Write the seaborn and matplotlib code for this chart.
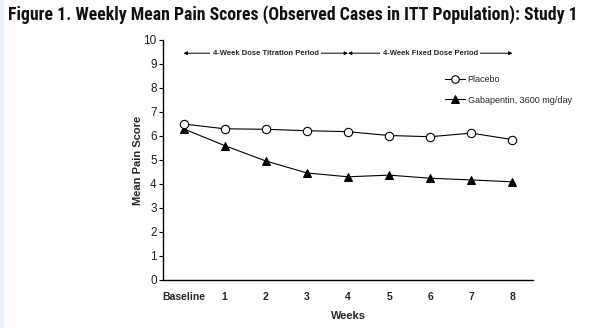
import matplotlib
matplotlib.use("Agg")
import matplotlib.pyplot as plt
import matplotlib.patches as mpatches
import seaborn as sns
import pandas as pd

weeks = [0, 1, 2, 3, 4, 5, 6, 7, 8]
week_labels = ["Baseline", "1", "2", "3", "4", "5", "6", "7", "8"]
placebo = [6.5, 6.3, 6.28, 6.22, 6.18, 6.02, 5.97, 6.12, 5.85]
gabapentin = [6.3, 5.6, 4.96, 4.46, 4.3, 4.37, 4.24, 4.17, 4.09]
series_names = ["Placebo", "Gabapentin, 3600 mg/day"]
periods = ["4-Week Dose Titration Period", "4-Week Fixed Dose Period"]
period_bounds = [(0, 4), (4, 8)]
title = "Figure 1. Weekly Mean Pain Scores (Observed Cases in ITT Population): Study 1"

sns.set_theme(style="white")
plt.rcParams["font.family"] = ["Liberation Sans", "DejaVu Sans"]

fig = plt.figure(figsize=(5.9, 3.28), dpi=100)
fig.patch.set_facecolor("white")
# thin tinted page edge
fig.add_artist(mpatches.Rectangle((0, 0), 4 / 590, 1, transform=fig.transFigure,
                                  facecolor="#eaf1f9", edgecolor="none"))

ax = fig.add_axes([163 / 590, 48 / 328, 370 / 590, 240 / 328])

df_p = pd.DataFrame({"week": weeks, "score": placebo})
df_g = pd.DataFrame({"week": weeks, "score": gabapentin})

sns.lineplot(data=df_g, x="week", y="score", ax=ax, color="black", lw=0.8,
             marker="^", markersize=6, markerfacecolor="black",
             markeredgecolor="black", label=series_names[1], zorder=3)
sns.lineplot(data=df_p, x="week", y="score", ax=ax, color="black", lw=0.8,
             marker="o", markersize=6, markerfacecolor="white",
             markeredgecolor="black", markeredgewidth=0.8,
             label=series_names[0], zorder=4)

ax.set_xlim(-0.5, 8.5)
ax.set_ylim(0, 10)
ax.set_yticks(range(0, 11))
ax.set_xticks(weeks)
ax.set_xticklabels(week_labels, fontsize=7.5, fontweight="bold")
ax.tick_params(axis="y", left=True, length=3, width=0.8, color="black",
               labelsize=8.5, pad=1.5, labelcolor="#222222")
ax.tick_params(axis="x", bottom=False, pad=3)
for s in ["top", "right"]:
    ax.spines[s].set_visible(False)
for s in ["left", "bottom"]:
    ax.spines[s].set_color("black")
    ax.spines[s].set_linewidth(1.0)

ax.set_xlabel("Weeks", fontsize=8, fontweight="bold", labelpad=6)
ax.set_ylabel("Mean Pain Score", fontsize=8, fontweight="bold", labelpad=0)

# treatment period arrows
for (a, b), txt in zip(period_bounds, periods):
    ax.annotate("", xy=(a, 9.45), xytext=(b, 9.45),
                arrowprops=dict(arrowstyle="<|-|>", color="black", lw=0.7,
                                mutation_scale=5, shrinkA=0, shrinkB=0))
    ax.text((a + b) / 2, 9.45, txt, ha="center", va="center", fontsize=5.5,
            fontweight="bold",
            bbox=dict(boxstyle="square,pad=0.3", facecolor="white", edgecolor="none"))

handles, labels = ax.get_legend_handles_labels()
order = [labels.index(n) for n in series_names]
ax.legend([handles[i] for i in order], [labels[i] for i in order],
          loc="upper left", bbox_to_anchor=(0.762, 0.855), frameon=False,
          fontsize=6.5, handlelength=2.2, handletextpad=0.3, labelspacing=1.3,
          borderpad=0, borderaxespad=0, markerscale=0.9)

# condensed bold heading, sized to span the page width
t = fig.text(8 / 590, 1 - 15 / 328, title, ha="left", va="center", fontsize=14,
             fontweight="bold",
             family=["Roboto Condensed", "Archivo Narrow", "Barlow Condensed", "DejaVu Sans"],
             color="#111111")
renderer = fig.canvas.get_renderer()
w = t.get_window_extent(renderer).width
t.set_fontsize(14 * 574 / w)

fig.savefig("out.png", dpi=100, facecolor="white")
